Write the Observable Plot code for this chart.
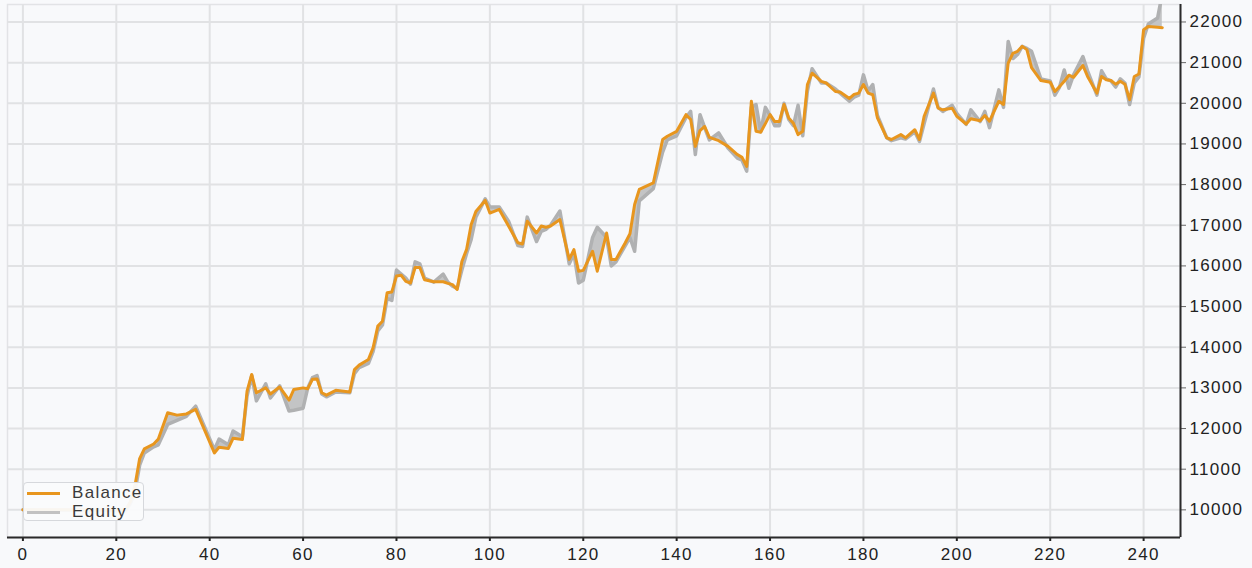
<!DOCTYPE html>
<html>
<head>
<meta charset="utf-8">
<script src="https://cdn.jsdelivr.net/npm/d3@7"></script>
<script src="https://cdn.jsdelivr.net/npm/@observablehq/plot@0.6"></script>
<style>
  html, body { margin: 0; padding: 0; background: #f8f9fb; }
  #wrap { position: relative; width: 1252px; height: 568px; overflow: hidden; }
  #legend {
    position: absolute; left: 23px; top: 482px; width: 121px; height: 39px;
    background: rgba(250,251,252,0.95); border: 1px solid #d6d8dc; border-radius: 4px;
    font-family: "Liberation Sans", Arial, sans-serif; font-size: 17px; letter-spacing: 1.3px; color: #3a3a3a;
    box-sizing: border-box;
  }
  .item { position: absolute; left: 0; height: 18px; display: flex; align-items: center; }
  .sw { width: 33px; height: 3px; margin-left: 3px; margin-right: 12px; }
</style>
</head>
<body>
<div id="wrap">
  <div id="chart"></div>
  <div id="legend">
    <div class="item" style="top:1px"><div class="sw" style="background:#e8961e"></div><span>Balance</span></div>
    <div class="item" style="top:20px"><div class="sw" style="background:#c2c2c2"></div><span>Equity</span></div>
  </div>
</div>
<script>
const trades = [0,22,23,24,25,26,28,29,31,33,35,37,41,42,44,45,47,48,49,50,52,53,55,57,58,60,61,62,63,64,65,67,70,71,72,74,75,76,77,78,79,80,81,82,83,84,85,86,88,90,91,92,93,94,95,96,97,99,100,102,104,106,107,108,110,111,112,113,115,117,118,119,120,122,123,125,126,127,129,130,131,132,135,137,138,140,142,143,144,145,146,147,149,151,153,154,155,156,157,158,159,160,161,162,163,164,165,166,167,168,169,171,172,174,175,177,178,179,180,181,182,183,185,186,188,189,191,192,193,195,196,197,199,200,202,203,205,206,207,209,210,211,212,213,214,215,216,218,220,221,222,223,224,225,227,228,230,231,232,233,234,235,236,237,238,239,240,241,243,244];

const balance = [10000,10000,10200,10600,11260,11500,11620,11740,12390,12330,12360,12470,11400,11540,11510,11760,11730,12920,13330,12880,13000,12850,13020,12700,12960,13000,12980,13210,13220,12880,12820,12940,12900,13450,13560,13700,13990,14520,14640,15340,15360,15750,15770,15620,15580,15960,15960,15660,15610,15610,15570,15540,15420,16110,16400,17020,17340,17610,17300,17390,16980,16570,16540,17100,16810,16980,16950,16980,17140,16160,16400,15870,15890,16360,15870,16810,16160,16160,16570,16790,17510,17880,18040,19110,19190,19310,19720,19600,18940,19330,19430,19160,19080,18940,18740,18670,18450,20050,19310,19290,19500,19720,19550,19550,19970,19640,19510,19230,19310,20460,20740,20540,20500,20290,20280,20120,20220,20250,20460,20250,20210,19640,19150,19110,19230,19150,19350,19110,19680,20250,19880,19840,19880,19680,19490,19620,19570,19700,19560,20050,19970,20990,21230,21280,21400,21320,20880,20560,20520,20290,20410,20540,20690,20640,20930,20660,20250,20660,20580,20560,20470,20540,20470,20090,20660,20720,21810,21890,21870,21860];

const equity = [10000,9980,10150,10450,11100,11400,11550,11600,12100,12200,12300,12550,11480,11740,11600,11940,11800,12800,13300,12680,13100,12750,13050,12430,12450,12500,13000,13250,13300,12850,12780,12900,12880,13350,13500,13600,13900,14400,14550,15200,15150,15900,15800,15700,15550,16100,16050,15700,15600,15800,15600,15500,15450,15900,16300,16650,17200,17650,17450,17450,17100,16500,16480,17200,16600,16850,16900,17000,17350,16050,16300,15580,15650,16700,16950,16700,16000,16100,16500,16700,16360,17600,17900,18800,19100,19200,19650,19800,18740,19720,19400,19100,19270,18900,18650,18600,18330,19900,19970,19300,19900,19700,19450,19450,20000,19600,19450,19950,19200,20300,20850,20500,20500,20350,20250,20050,20150,20200,20700,20300,20460,19700,19150,19080,19150,19120,19300,19060,19500,20350,19900,19800,19950,19750,19480,19840,19550,19800,19400,20330,19900,21520,21100,21200,21400,21350,21280,20600,20550,20200,20400,20820,20370,20700,21150,20800,20200,20800,20600,20550,20400,20600,20500,19970,20500,20650,21600,21950,22100,22700];

const xTicks = [0,20,40,60,80,100,120,140,160,180,200,220,240];
const yTicks = [10000,11000,12000,13000,14000,15000,16000,17000,18000,19000,20000,21000,22000];

const rows = trades.map((t, i) => ({trade: t, balance: balance[i], equity: equity[i]}));

const xDomain = [-3.3, 247.9];
const yDomain = [9320, 22430];

const chart = Plot.plot({
  width: 1252,
  height: 568,
  marginLeft: 7,
  marginRight: 72,
  marginTop: 4,
  marginBottom: 31,
  x: {domain: xDomain},
  y: {domain: yDomain},
  style: {fontFamily: "'Liberation Sans', Arial, sans-serif", fontSize: "17px", color: "#222", background: "#f8f9fb", letterSpacing: "1.3px"},
  marks: [
    Plot.frame({stroke: "#e2e3e6", strokeWidth: 1.5}),
    Plot.gridX(xTicks, {stroke: "#e1e2e4", strokeOpacity: 1, strokeWidth: 2}),
    Plot.gridY(yTicks, {stroke: "#e1e2e4", strokeOpacity: 1, strokeWidth: 2}),
    Plot.areaY(rows, {x: "trade", y1: "balance", y2: "equity", fill: "#c3c4c5", clip: true}),
    Plot.line(rows, {x: "trade", y: "equity", stroke: "#b0b1b2", strokeWidth: 3.5, clip: true}),
    Plot.line(rows, {x: "trade", y: "balance", stroke: "#e8961e", strokeWidth: 3, clip: true}),
    Plot.axisY(yTicks, {anchor: "right", tickSize: 5, tickPadding: 4, tickFormat: d => String(d), label: null, stroke: "#666"}),
    Plot.axisX(xTicks, {anchor: "bottom", tickSize: 4, tickPadding: 6, tickFormat: d => String(d), label: null, stroke: "#222", strokeWidth: 2}),
    Plot.ruleX([xDomain[1]], {stroke: "#2a2a2a", strokeWidth: 2}),
    Plot.ruleY([yDomain[0]], {stroke: "#2a2a2a", strokeWidth: 2})
  ]
});
document.getElementById("chart").appendChild(chart);
</script>
</body>
</html>
